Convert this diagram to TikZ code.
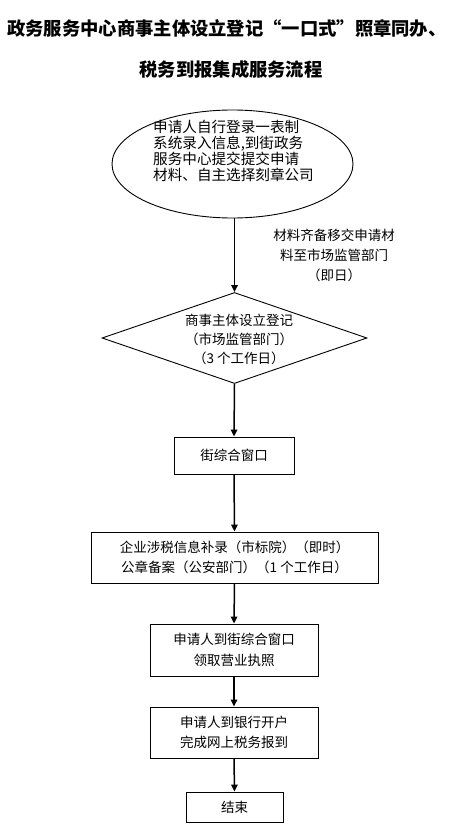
\documentclass[tikz,border=0pt]{standalone}
\usepackage{fontspec}
\setmainfont{Noto Sans CJK SC}
\usetikzlibrary{shapes.geometric,arrows.meta}
\begin{document}
\begin{tikzpicture}[x=1pt,y=-1pt,
  box/.style={draw,line width=0.9pt,inner sep=0pt,align=center,font=\fontsize{13.5pt}{20.5pt}\selectfont},
  conn/.style={line width=1.5pt,-{Triangle[length=7pt,width=6.5pt]}},
  lbl/.style={inner sep=0pt,align=center,font=\fontsize{13.5pt}{20pt}\selectfont}]
\useasboundingbox[fill=white] (0,0) rectangle (456,832);
% title
\node[inner sep=0pt,font=\fontsize{18.3pt}{22pt}\selectfont\bfseries] (t1) at (227,28) {政务服务中心商事主体设立登记“一口式”照章同办、};
\node[inner sep=0pt,font=\fontsize{18.3pt}{22pt}\selectfont\bfseries] (t2) at (231,70) {税务到报集成服务流程};
% ellipse
\node[draw,ellipse,line width=0.9pt,minimum width=241pt,minimum height=108pt,inner sep=0pt] (e) at (232.5,164) {};
\node[inner sep=0pt,align=left,font=\fontsize{14.6pt}{16.2pt}\selectfont] (et) at (233.5,151) {申请人自行登录一表制\\系统录入信息,到街政务\\服务中心提交提交申请\\材料、自主选择刻章公司};
% diamond
\node[draw,diamond,line width=0.9pt,minimum width=265pt,minimum height=91pt,inner sep=0pt,shape aspect=2.9] (d) at (234.5,338) {};
\node[lbl,font=\fontsize{13.5pt}{19pt}\selectfont] (dt) at (239,339) {商事主体设立登记\\（市场监管部门）\\（3 个工作日）};
% label
\node[lbl] (l) at (334,255) {材料齐备移交申请材\\料至市场监管部门\\（即日）};
% boxes
\node[box,minimum width=120pt,minimum height=37pt] (b1) at (234,455.5) {街综合窗口};
\node[box,minimum width=287pt,minimum height=51pt] (b2) at (234.5,557.5) {企业涉税信息补录（市标院）（即时）\\公章备案（公安部门）（1 个工作日）};
\node[box,minimum width=168pt,minimum height=52pt] (b3) at (234,650) {申请人到街综合窗口\\领取营业执照};
\node[box,minimum width=168pt,minimum height=51pt] (b4) at (234,732.5) {申请人到银行开户\\完成网上税务报到};
\node[box,minimum width=97pt,minimum height=30pt] (b5) at (234.5,807) {结束};
% connectors
\draw[conn] (e.south -| d.north) -- (d.north);
\draw[conn] (d.south) -- (b1.north);
\draw[conn] (b1.south) -- (b2.north);
\draw[conn] (b2.south) -- (b3.north);
\draw[conn] (b3.south) -- (b4.north);
\draw[conn] (b4.south) -- (b5.north);
\end{tikzpicture}
\end{document}
